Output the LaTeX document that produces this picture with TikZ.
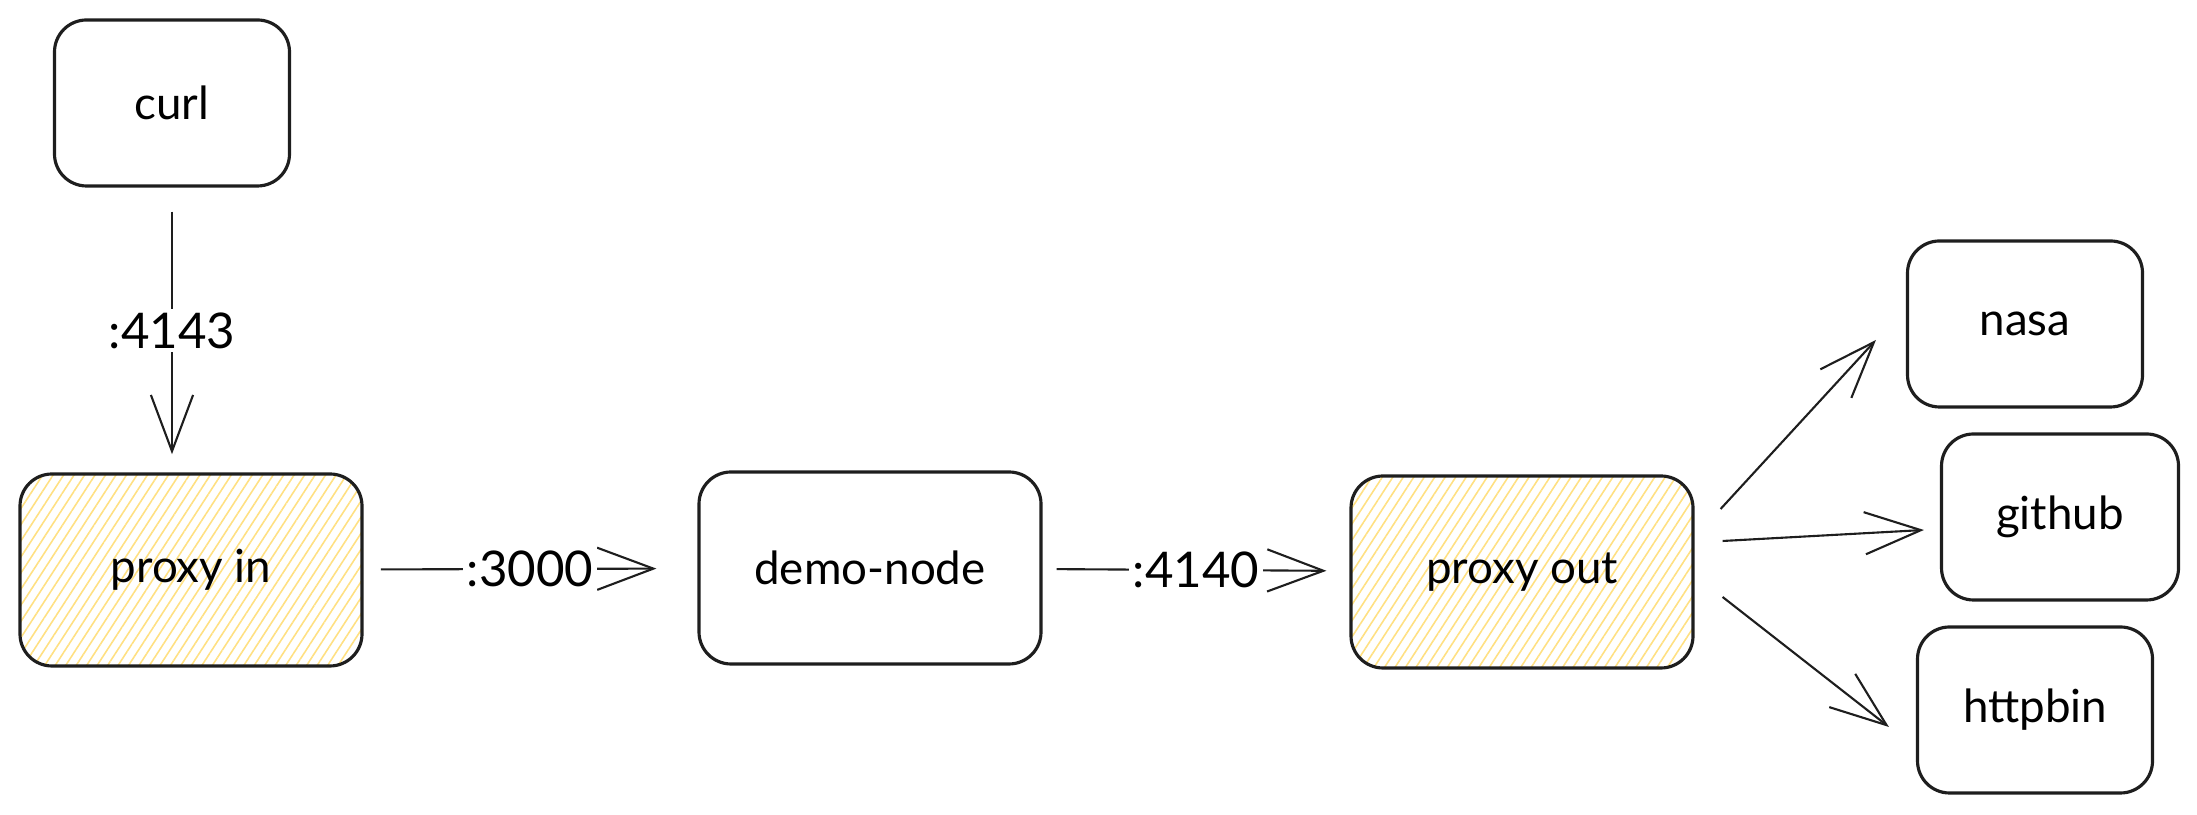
\documentclass[tikz,border=0pt]{standalone}
\usepackage{fontspec}
\setmainfont{Lato}
\usetikzlibrary{arrows.meta,patterns.meta}
\definecolor{hatch}{RGB}{255,224,130}
\definecolor{ink}{RGB}{30,30,30}
\begin{document}
\begin{tikzpicture}[
    box/.style={draw=ink, line width=0.9pt, rounded corners=0.32cm,
      minimum width=2.35cm, minimum height=1.66cm, font=\fontsize{13}{15}\selectfont},
    bigbox/.style={box, minimum width=3.42cm, minimum height=1.92cm},
    hatched/.style={pattern={Lines[angle=57,distance=2.5pt,line width=0.45pt]},
      pattern color=hatch},
    link/.style={draw=ink, line width=0.6pt, -{Straight Barb[length=16pt,width=12pt]}},
    port/.style={fill=white, inner sep=1pt, font=\fontsize{14}{16}\selectfont}
  ]
  \useasboundingbox (0,0) rectangle (21.97,8.15);
  \draw
    (1.72,7.12) node[box] (curl){curl}
    (1.91,2.45) node[bigbox,hatched] (proxyin){proxy in}
    (8.70,2.47) node[bigbox] (demo){demo-node}
    (15.22,2.43) node[bigbox,hatched] (proxyout){proxy out}
    (20.25,4.91) node[box] (nasa){nasa}
    (20.60,2.98) node[box,minimum width=2.37cm] (github){github}
    (20.35,1.05) node[box] (httpbin){httpbin};
  \begin{scope}[link]
    \draw[shorten <=0.24cm, shorten >=0.19cm] (curl) to node[port] (p4143){:4143} (curl|-proxyin.north);
    \draw[shorten <=0.18cm, shorten >=0.41cm] (proxyin) to node[port] (p3000){:3000} (demo);
    \draw[shorten <=0.14cm, shorten >=0.23cm] (demo) to node[port] (p4140){:4140} (proxyout);
    \draw ([shift={(0.26,0.63)}]proxyout.east) to ([shift={(-0.30,-0.16)}]nasa.west);
    \draw ([shift={(0.28,0.31)}]proxyout.east) to ([shift={(-0.16,-0.13)}]github.west);
    \draw ([shift={(0.28,-0.25)}]proxyout.east) to ([shift={(-0.27,-0.17)}]httpbin.west);
  \end{scope}
\end{tikzpicture}
\end{document}
